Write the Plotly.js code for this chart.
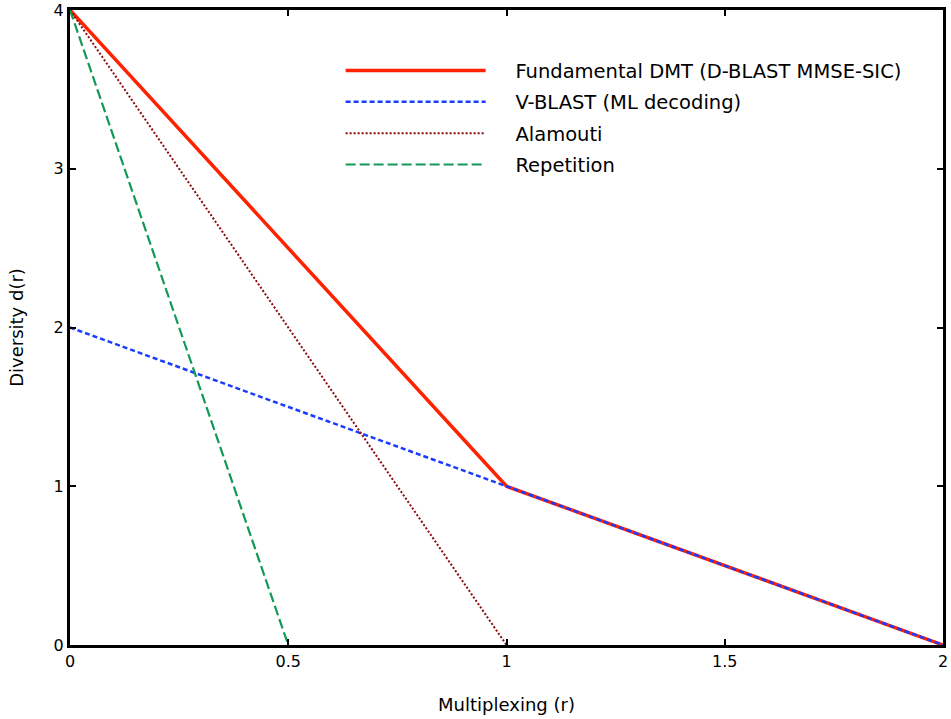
<!DOCTYPE html>
<html><head><meta charset="utf-8">
<script src="https://cdn.plot.ly/plotly-3.0.1.min.js"></script>
<style>body{margin:0;padding:0;background:#fff}#c{width:951px;height:719px}</style>
</head><body><div id="c"></div>
<script>
const fundX = [0, 1, 2];
const fundY = [4, 1, 0];
const vblastX = [0, 1, 2];
const vblastY = [2, 1, 0];
const alamoutiX = [0, 1];
const alamoutiY = [4, 0];
const repX = [0, 0.5];
const repY = [4, 0];
const names = ["Fundamental DMT (D-BLAST MMSE-SIC)", "V-BLAST (ML decoding)", "Alamouti", "Repetition"];
const xTicks = [0, 0.5, 1, 1.5, 2];
const xTickText = ["0", "0.5", "1", "1.5", "2"];
const yTicks = [0, 1, 2, 3, 4];

const font = "DejaVu Sans, sans-serif";
const pad = "\u00a0\u00a0\u00a0\u00a0";
const traces = [
  {x: fundX, y: fundY, name: pad + names[0], legendgroup: "a", mode: "lines", line: {color: "#ff2200", width: 3.5}},
  {x: vblastX, y: vblastY, name: pad + names[1], legendgroup: "b", mode: "lines", line: {color: "#1a3cff", width: 2.5, dash: "5px,3px"}},
  {x: alamoutiX, y: alamoutiY, name: pad + names[2], legendgroup: "c", mode: "lines", line: {color: "#8b0a0a", width: 2, dash: "2px,2px"}},
  {x: repX, y: repY, name: pad + names[3], legendgroup: "d", mode: "lines", line: {color: "#119955", width: 2.2, dash: "10px,4px"}}
];
const axCommon = {showgrid: false, zeroline: false, showline: true, linecolor: "#000", linewidth: 3,
  ticks: "inside", ticklen: 6, tickwidth: 2, tickcolor: "#000", mirror: "ticks",
  tickfont: {family: font, size: 16, color: "#000"}};
const layout = {
  width: 951, height: 719,
  margin: {l: 70, r: 8, t: 10, b: 74},
  paper_bgcolor: "#fff", plot_bgcolor: "#fff",
  showlegend: true,
  legend: {x: 0.31, y: 0.935, xanchor: "left", yanchor: "top", bgcolor: "rgba(0,0,0,0)",
    font: {family: font, size: 19.5, color: "#000"}, itemwidth: 140, tracegroupgap: 3},
  xaxis: Object.assign({}, axCommon, {range: [0, 2], tickvals: xTicks, ticktext: xTickText,
    title: {text: "Multiplexing (r)", font: {family: font, size: 18, color: "#000"}, standoff: 29}}),
  yaxis: Object.assign({}, axCommon, {range: [0, 4], tickvals: yTicks,
    title: {text: "Diversity d(r)", font: {family: font, size: 18, color: "#000"}, standoff: 26}}),
  font: {family: font, color: "#000"}
};
Plotly.newPlot("c", traces, layout, {displayModeBar: false, staticPlot: true});
</script></body></html>
